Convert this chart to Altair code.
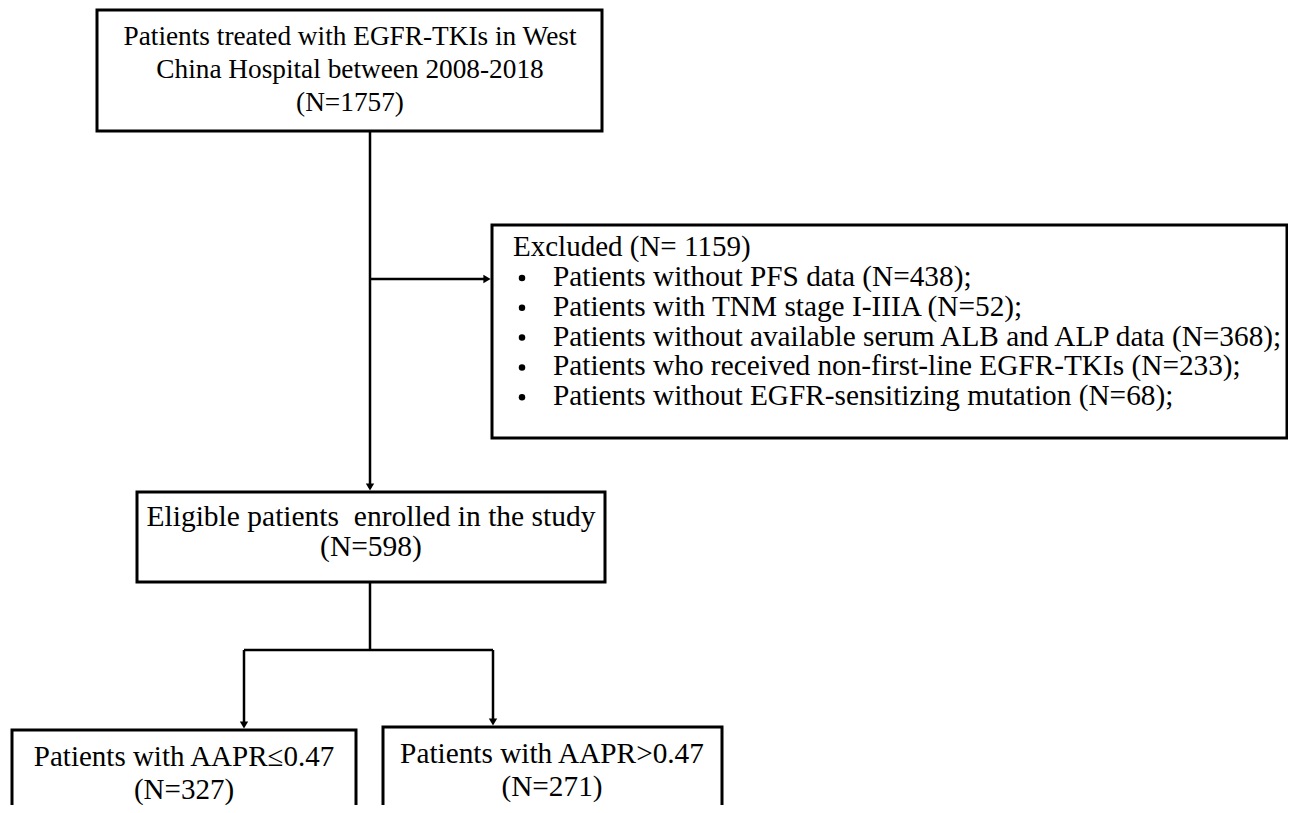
import altair as alt
import pandas as pd

# ---- content ----
top_lines = ["Patients treated with EGFR-TKIs in West", "China Hospital between 2008-2018", "(N=1757)"]
excl_title = "Excluded (N= 1159)"
excl_items = [
    "Patients without PFS data (N=438);",
    "Patients with TNM stage I-IIIA (N=52);",
    "Patients without available serum ALB and ALP data (N=368);",
    "Patients who received non-first-line EGFR-TKIs (N=233);",
    "Patients without EGFR-sensitizing mutation (N=68);",
]
elig_lines = ["Eligible patients\u00a0 enrolled in the study", "(N=598)"]
low_lines = ["Patients with AAPR\u22640.47", "(N=327)"]
high_lines = ["Patients with AAPR>0.47", "(N=271)"]

# ---- layout (page pixel coordinates) ----
W, H = 1280, 797
XD = [8, 8 + W]
YD = [8, 8 + H]
FONT = "Liberation Serif"

boxes = pd.DataFrame([
    dict(x=97, x2=602, y=10, y2=131),
    dict(x=492, x2=1287, y=225, y2=438),
    dict(x=137, x2=605, y=492, y2=582),
    dict(x=12, x2=356, y=730, y2=830),
    dict(x=383, x2=722, y=727, y2=830),
])

lines = pd.DataFrame([
    dict(x=370, x2=370, y=131, y2=488),
    dict(x=370, x2=487, y=279, y2=279),
    dict(x=370, x2=370, y=582, y2=650),
    dict(x=244, x2=493, y=650, y2=650),
    dict(x=244, x2=244, y=650, y2=724),
    dict(x=493, x2=493, y=650, y2=721),
])

arrows_down = pd.DataFrame([
    dict(x=370, y=487), dict(x=244, y=725), dict(x=493, y=722),
])
arrows_right = pd.DataFrame([dict(x=487, y=279)])

texts_c = pd.DataFrame(
    [dict(x=350, y=37 + 33 * i, t=s, fs=27.3) for i, s in enumerate(top_lines)]
    + [dict(x=371, y=517 + 30 * i, t=s, fs=29.5) for i, s in enumerate(elig_lines)]
    + [dict(x=184, y=757 + 33 * i, t=s, fs=29) for i, s in enumerate(low_lines)]
    + [dict(x=552, y=754 + 33 * i, t=s, fs=29.3) for i, s in enumerate(high_lines)]
)
texts_l = pd.DataFrame(
    [dict(x=513, y=247, t=excl_title, fs=29)]
    + [dict(x=553, y=277 + 29.8 * i, t=s, fs=29.3) for i, s in enumerate(excl_items)]
)
bullets = pd.DataFrame([dict(x=522, y=278 + 29.8 * i) for i in range(len(excl_items))])

xs = alt.Scale(domain=XD, nice=False, zero=False)
ys = alt.Scale(domain=YD, nice=False, zero=False, reverse=True)
X = lambda f="x": alt.X(f"{f}:Q", scale=xs, axis=None)
Y = lambda f="y": alt.Y(f"{f}:Q", scale=ys, axis=None)
S = alt.Size("fs:Q", scale=None, legend=None)

rects = alt.Chart(boxes).mark_rect(filled=False, stroke="black", strokeWidth=3, clip=True).encode(
    x=X(), x2="x2", y=Y(), y2="y2")
rules = alt.Chart(lines).mark_rule(color="black", strokeWidth=2.5).encode(
    x=X(), x2="x2", y=Y(), y2="y2")
ad = alt.Chart(arrows_down).mark_point(shape="triangle-down", filled=True, color="black", size=70, opacity=1).encode(
    x=X(), y=Y())
ar = alt.Chart(arrows_right).mark_point(shape="triangle-right", filled=True, color="black", size=70, opacity=1).encode(
    x=X(), y=Y())
tc = alt.Chart(texts_c).mark_text(font=FONT, align="center", baseline="middle", color="black").encode(
    x=X(), y=Y(), text="t:N", size=S)
tl = alt.Chart(texts_l).mark_text(font=FONT, align="left", baseline="middle", color="black").encode(
    x=X(), y=Y(), text="t:N", size=S)
tb = alt.Chart(bullets).mark_circle(color="black", size=42, opacity=1).encode(
    x=X(), y=Y())

chart = alt.layer(rects, rules, ad, ar, tc, tl, tb).properties(
    width=W, height=H, padding=0, background="white"
).configure_view(stroke=None)

chart.save("out.html", embed_options={"renderer": "svg", "actions": False})
